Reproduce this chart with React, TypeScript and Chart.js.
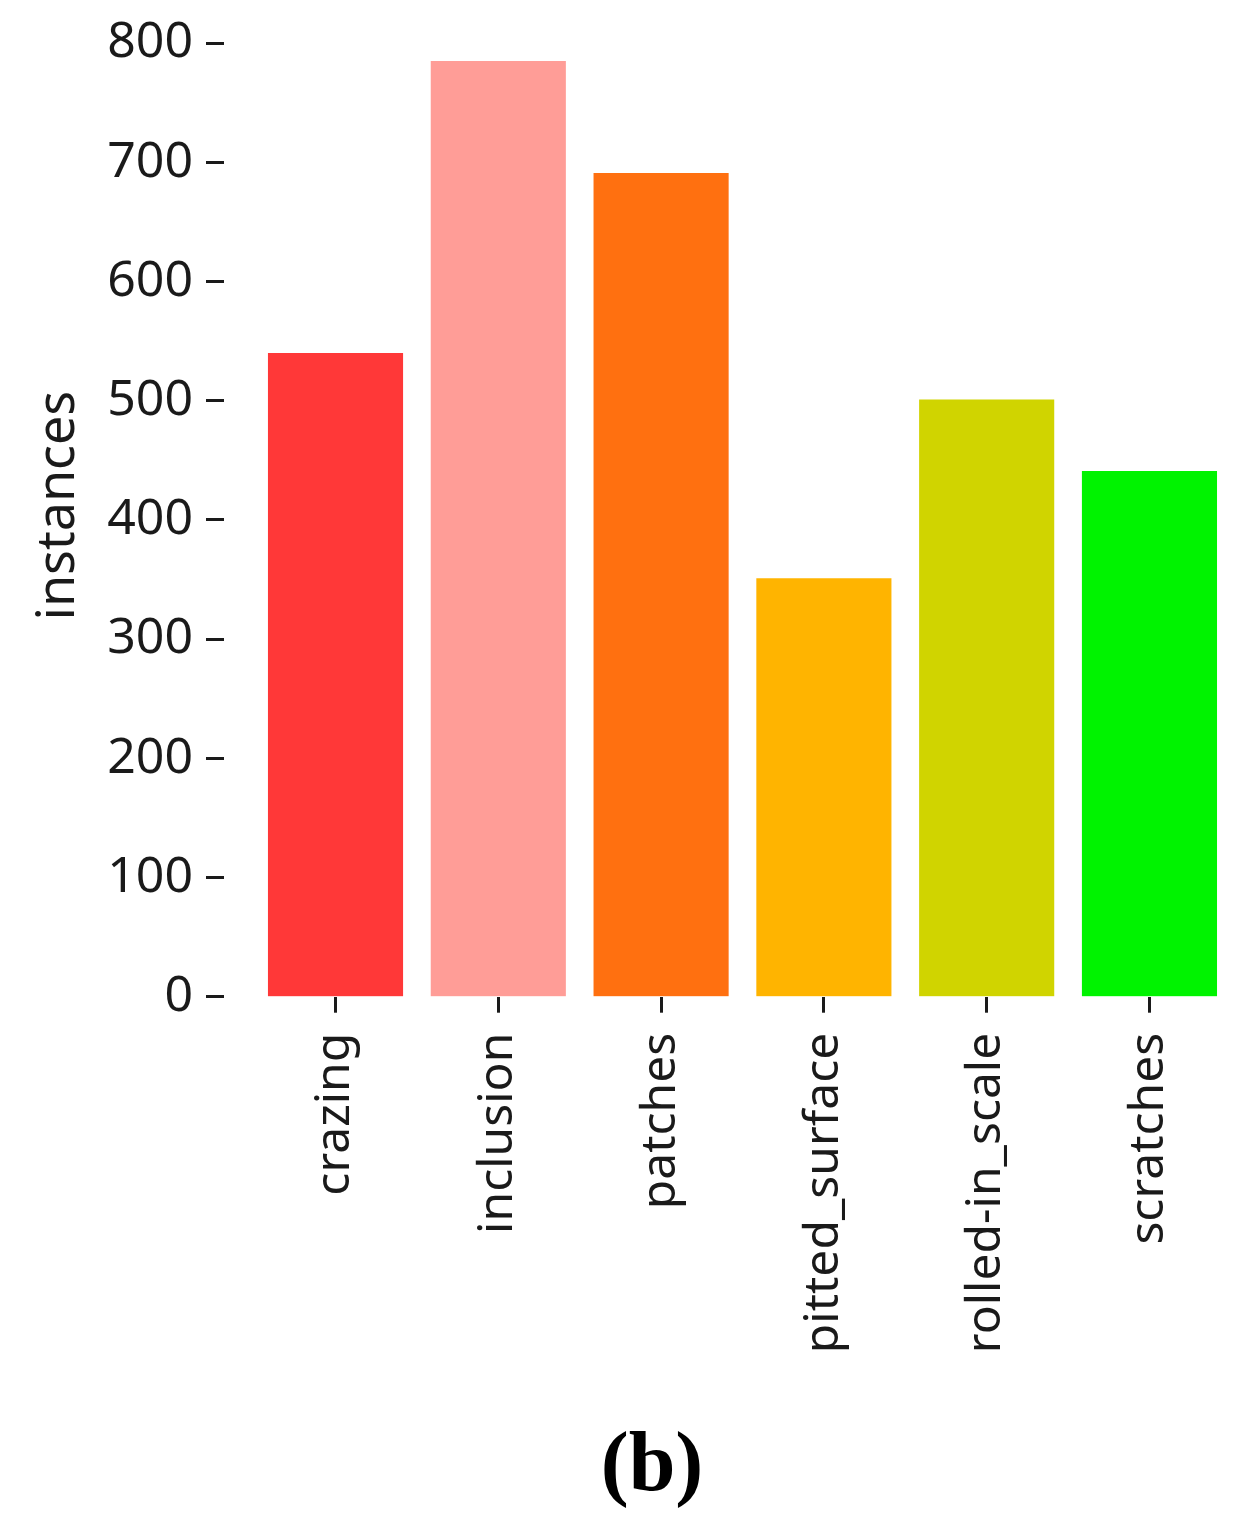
import React, { useEffect, useRef } from "react";
import { Chart, registerables } from "chart.js";

Chart.register(...registerables);

const categories = ["crazing", "inclusion", "patches", "pitted_surface", "rolled-in_scale", "scratches"];
const instances = [540, 785, 691, 351, 501, 441];
const barColors = ["#FF3838", "#FF9D97", "#FF7010", "#FFB400", "#D0D400", "#00F300"];
const yTickValues = [0, 100, 200, 300, 400, 500, 600, 700, 800];
const yAxisTitle = "instances";
const caption = "(b)";

const textColor = "#1a1a1a";
const fontFamily = "'Noto Sans', 'DejaVu Sans', sans-serif";

export default function App() {
  const ref = useRef<HTMLCanvasElement>(null);

  useEffect(() => {
    if (!ref.current) return;
    const chart = new Chart(ref.current, {
      type: "bar",
      data: {
        datasets: [
          {
            data: categories.map((_, i) => ({ x: i, y: instances[i] })),
            backgroundColor: barColors,
            borderWidth: 0,
            barPercentage: 0.83,
            categoryPercentage: 1,
          },
        ],
      },
      options: {
        animation: false,
        responsive: true,
        maintainAspectRatio: false,
        layout: { padding: { top: 14.5, left: 0, right: 0, bottom: 0 } },
        plugins: { legend: { display: false }, tooltip: { enabled: false } },
        scales: {
          x: {
            type: "linear",
            offset: false,
            min: -0.685,
            max: 5.636,
            afterBuildTicks: (s: any) => {
              s.ticks = categories.map((_, i) => ({ value: i }));
            },
            afterFit: (s: any) => {
              s.height = 403.3;
              s.paddingLeft = 0;
              s.paddingRight = 0;
            },
            ticks: {
              autoSkip: false,
              minRotation: 90,
              maxRotation: 90,
              padding: 20,
              color: textColor,
              font: { family: fontFamily, size: 48 },
              callback: (v: any) => categories[v as number] ?? "",
            },
            grid: {
              offset: false,
              drawOnChartArea: false,
              drawTicks: true,
              tickLength: 16,
              tickWidth: 3,
              tickColor: textColor,
            },
            border: { display: false },
          },
          y: {
            type: "linear",
            min: 0,
            max: 824,
            afterBuildTicks: (s: any) => {
              s.ticks = yTickValues.map((v) => ({ value: v }));
            },
            afterFit: (s: any) => {
              s.width = 224;
              s.paddingTop = 0;
              s.paddingBottom = 0;
            },
            ticks: {
              padding: 13,
              color: textColor,
              font: { family: fontFamily, size: 50 },
            },
            grid: {
              drawOnChartArea: false,
              drawTicks: true,
              tickLength: 18,
              tickWidth: 3,
              tickColor: textColor,
            },
            border: { display: false },
            title: {
              display: true,
              text: yAxisTitle,
              color: textColor,
              font: { family: fontFamily, size: 52 },
              padding: { top: 28, bottom: 0 },
            },
          },
        },
      },
    });
    return () => chart.destroy();
  }, []);

  return (
    <>
      <div style={{ position: "absolute", left: 0, top: 0, width: 1253, height: 1400 }}>
        <canvas ref={ref} />
      </div>
      <div
        style={{
          position: "absolute",
          left: 552,
          top: 1420,
          width: 200,
          textAlign: "center",
          fontFamily: "'Liberation Serif', 'Times New Roman', serif",
          fontWeight: "bold",
          fontSize: 84,
          lineHeight: "84px",
          color: "#000",
        }}
      >
        {caption}
      </div>
    </>
  );
}
